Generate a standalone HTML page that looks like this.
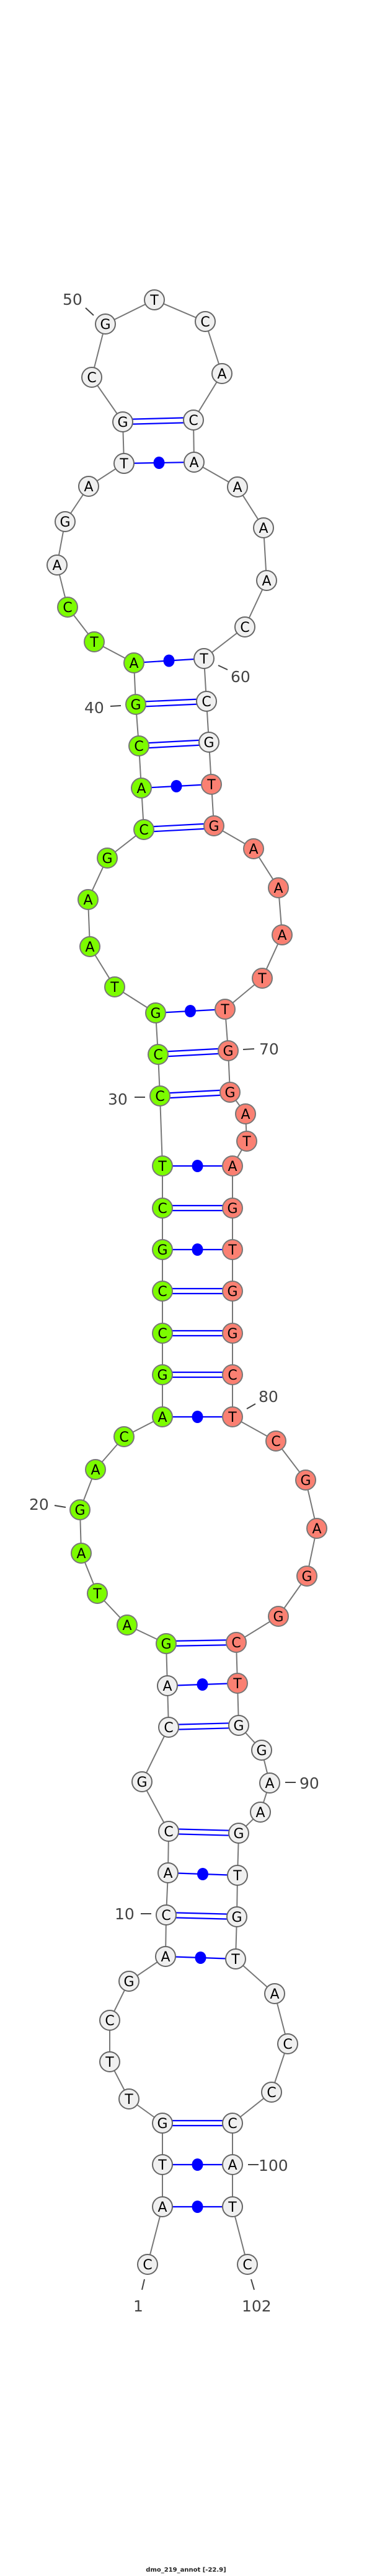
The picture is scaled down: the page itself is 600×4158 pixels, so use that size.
<!DOCTYPE html>
<html><head><meta charset="utf-8"><style>
html,body{margin:0;padding:0;background:#fff;}
svg{display:block}
.b{stroke:#777;stroke-width:2;fill:none}
.p{stroke:#0000ff;stroke-width:2.2;fill:none}
.d{fill:#0000ff}
circle.w{fill:#f0f0f0;stroke:#666;stroke-width:2}
circle.g{fill:#7cfc00;stroke:#777;stroke-width:2}
circle.r{fill:#fa8072;stroke:#777;stroke-width:2}
text.n{font-family:"DejaVu Sans","Liberation Sans",sans-serif;font-size:22px;text-anchor:middle;fill:#000}
text.l{font-family:"DejaVu Sans","Liberation Sans",sans-serif;font-size:25px;fill:#444}
.t{stroke:#444;stroke-width:2}
</style></head><body>
<svg width="600" height="4158" viewBox="0 0 600 4158" xmlns="http://www.w3.org/2000/svg">
<polyline class="b" points="238,3655 262,3562 262,3494 262,3427 208,3388 177,3328 177,3261 208,3198 267,3158 268,3091 271,3023 272,2956 229,2876 272,2788 270,2721 268,2653 205,2623 157,2572 131,2507 129,2437 154,2372 200,2319 262,2287 262,2219 262,2152 262,2084 262,2017 262,1950 262,1882 258,1769 255,1702 251,1635 185,1593 145,1528 142,1452 173,1385 232,1339 228,1272 224,1204 219,1137 216,1070 152,1036 109,980 92,912 105,842 143,785 200,748 198,681 148,609 170,523 249,484 331,519 358,603 312,678 313,746 383,786 425,852 430,937 395,1012 329,1063 333,1132 337,1198 341,1266 345,1333 409,1370 449,1433 455,1509 423,1579 363,1629 368,1696 371,1763 396,1798 398,1842 375,1882 375,1950 375,2017 375,2084 375,2152 375,2219 375,2287 445,2326 493,2389 511,2467 495,2544 449,2609 381,2651 383,2717 385,2785 422,2825 435,2878 420,2925 385,2959 383,3027 382,3094 380,3162 443,3218 464,3299 438,3377 375,3427 375,3494 375,3562 399,3655"/>
<!-- single (dot) pairs -->
<g class="p">
<line x1="262" y1="3562" x2="375" y2="3562"/>
<line x1="262" y1="3494" x2="375" y2="3494"/>
<line x1="267" y1="3158" x2="380" y2="3162"/>
<line x1="271" y1="3023" x2="383" y2="3027"/>
<line x1="270" y1="2721" x2="383" y2="2717"/>
<line x1="262" y1="2287" x2="375" y2="2287"/>
<line x1="262" y1="2017" x2="375" y2="2017"/>
<line x1="262" y1="1882" x2="375" y2="1882"/>
<line x1="251" y1="1635" x2="363" y2="1629"/>
<line x1="228" y1="1272" x2="341" y2="1266"/>
<line x1="216" y1="1070" x2="329" y2="1063"/>
<line x1="200" y1="748" x2="313" y2="746"/>
</g>
<g class="d">
<ellipse cx="318.5" cy="3562" rx="9" ry="10"/>
<ellipse cx="318.5" cy="3494" rx="9" ry="10"/>
<ellipse cx="323.5" cy="3160" rx="9" ry="10"/>
<ellipse cx="327" cy="3025" rx="9" ry="10"/>
<ellipse cx="326.5" cy="2719" rx="9" ry="10"/>
<ellipse cx="318.5" cy="2287" rx="9" ry="10"/>
<ellipse cx="318.5" cy="2017" rx="9" ry="10"/>
<ellipse cx="318.5" cy="1882" rx="9" ry="10"/>
<ellipse cx="307" cy="1632" rx="9" ry="10"/>
<ellipse cx="284.5" cy="1269" rx="9" ry="10"/>
<ellipse cx="272.5" cy="1066.5" rx="9" ry="10"/>
<ellipse cx="256.5" cy="747" rx="9" ry="10"/>
</g>
<!-- double pairs -->
<g class="p">
<line x1="262" y1="3423" x2="375" y2="3423"/><line x1="262" y1="3431" x2="375" y2="3431"/>
<line x1="268" y1="3087" x2="382" y2="3090"/><line x1="268" y1="3095" x2="382" y2="3098"/>
<line x1="272" y1="2952" x2="385" y2="2955"/><line x1="272" y1="2960" x2="385" y2="2963"/>
<line x1="272" y1="2784" x2="385" y2="2781"/><line x1="272" y1="2792" x2="385" y2="2789"/>
<line x1="268" y1="2649" x2="381" y2="2647"/><line x1="268" y1="2657" x2="381" y2="2655"/>
<line x1="262" y1="2215" x2="375" y2="2215"/><line x1="262" y1="2223" x2="375" y2="2223"/>
<line x1="262" y1="2148" x2="375" y2="2148"/><line x1="262" y1="2156" x2="375" y2="2156"/>
<line x1="262" y1="2080" x2="375" y2="2080"/><line x1="262" y1="2088" x2="375" y2="2088"/>
<line x1="262" y1="1946" x2="375" y2="1946"/><line x1="262" y1="1954" x2="375" y2="1954"/>
<line x1="258" y1="1765" x2="371" y2="1759"/><line x1="258" y1="1773" x2="371" y2="1767"/>
<line x1="255" y1="1698" x2="368" y2="1692"/><line x1="255" y1="1706" x2="368" y2="1700"/>
<line x1="232" y1="1335" x2="345" y2="1329"/><line x1="232" y1="1343" x2="345" y2="1337"/>
<line x1="224" y1="1200" x2="337" y2="1194"/><line x1="224" y1="1208" x2="337" y2="1202"/>
<line x1="219" y1="1133" x2="333" y2="1128"/><line x1="219" y1="1141" x2="333" y2="1136"/>
<line x1="198" y1="677" x2="312" y2="674"/><line x1="198" y1="685" x2="312" y2="682"/>
</g>
<!-- number labels -->
<g>
<line class="t" x1="138" y1="497" x2="151" y2="509"/><text class="l" x="101" y="492">50</text>
<line class="t" x1="352" y1="1074" x2="367" y2="1081"/><text class="l" x="372" y="1101">60</text>
<line class="t" x1="178" y1="1140" x2="195" y2="1139"/><text class="l" x="136" y="1151">40</text>
<line class="t" x1="392" y1="1694" x2="410" y2="1693"/><text class="l" x="418" y="1702">70</text>
<line class="t" x1="217" y1="1771" x2="234" y2="1771"/><text class="l" x="174" y="1783">30</text>
<line class="t" x1="398" y1="2274" x2="412" y2="2266"/><text class="l" x="417" y="2263">80</text>
<line class="t" x1="88" y1="2430" x2="106" y2="2433"/><text class="l" x="47" y="2437">20</text>
<line class="t" x1="460" y1="2877" x2="477" y2="2877"/><text class="l" x="483" y="2887">90</text>
<line class="t" x1="227" y1="3089" x2="244" y2="3089"/><text class="l" x="185" y="3098">10</text>
<line class="t" x1="400" y1="3494" x2="417" y2="3494"/><text class="l" x="417" y="3504">100</text>
<line class="t" x1="233" y1="3679" x2="229" y2="3696"/><text class="l" x="215" y="3731">1</text>
<line class="t" x1="405" y1="3679" x2="410" y2="3696"/><text class="l" x="390" y="3731">102</text>
</g>
<!-- nodes -->
<g>
<circle class="w" cx="238" cy="3655" r="16"/><text class="n" x="238" y="3663">C</text>
<circle class="w" cx="262" cy="3562" r="16"/><text class="n" x="262" y="3570">A</text>
<circle class="w" cx="262" cy="3494" r="16"/><text class="n" x="262" y="3502">T</text>
<circle class="w" cx="262" cy="3427" r="16"/><text class="n" x="262" y="3435">G</text>
<circle class="w" cx="208" cy="3388" r="16"/><text class="n" x="208" y="3396">T</text>
<circle class="w" cx="177" cy="3328" r="16"/><text class="n" x="177" y="3336">T</text>
<circle class="w" cx="177" cy="3261" r="16"/><text class="n" x="177" y="3269">C</text>
<circle class="w" cx="208" cy="3198" r="16"/><text class="n" x="208" y="3206">G</text>
<circle class="w" cx="267" cy="3158" r="16"/><text class="n" x="267" y="3166">A</text>
<circle class="w" cx="268" cy="3091" r="16"/><text class="n" x="268" y="3099">C</text>
<circle class="w" cx="271" cy="3023" r="16"/><text class="n" x="271" y="3031">A</text>
<circle class="w" cx="272" cy="2956" r="16"/><text class="n" x="272" y="2964">C</text>
<circle class="w" cx="229" cy="2876" r="16"/><text class="n" x="229" y="2884">G</text>
<circle class="w" cx="272" cy="2788" r="16"/><text class="n" x="272" y="2796">C</text>
<circle class="w" cx="270" cy="2721" r="16"/><text class="n" x="270" y="2729">A</text>
<circle class="g" cx="268" cy="2653" r="16"/><text class="n" x="268" y="2661">G</text>
<circle class="g" cx="205" cy="2623" r="16"/><text class="n" x="205" y="2631">A</text>
<circle class="g" cx="157" cy="2572" r="16"/><text class="n" x="157" y="2580">T</text>
<circle class="g" cx="131" cy="2507" r="16"/><text class="n" x="131" y="2515">A</text>
<circle class="g" cx="129" cy="2437" r="16"/><text class="n" x="129" y="2445">G</text>
<circle class="g" cx="154" cy="2372" r="16"/><text class="n" x="154" y="2380">A</text>
<circle class="g" cx="200" cy="2319" r="16"/><text class="n" x="200" y="2327">C</text>
<circle class="g" cx="262" cy="2287" r="16"/><text class="n" x="262" y="2295">A</text>
<circle class="g" cx="262" cy="2219" r="16"/><text class="n" x="262" y="2227">G</text>
<circle class="g" cx="262" cy="2152" r="16"/><text class="n" x="262" y="2160">C</text>
<circle class="g" cx="262" cy="2084" r="16"/><text class="n" x="262" y="2092">C</text>
<circle class="g" cx="262" cy="2017" r="16"/><text class="n" x="262" y="2025">G</text>
<circle class="g" cx="262" cy="1950" r="16"/><text class="n" x="262" y="1958">C</text>
<circle class="g" cx="262" cy="1882" r="16"/><text class="n" x="262" y="1890">T</text>
<circle class="g" cx="258" cy="1769" r="16"/><text class="n" x="258" y="1777">C</text>
<circle class="g" cx="255" cy="1702" r="16"/><text class="n" x="255" y="1710">C</text>
<circle class="g" cx="251" cy="1635" r="16"/><text class="n" x="251" y="1643">G</text>
<circle class="g" cx="185" cy="1593" r="16"/><text class="n" x="185" y="1601">T</text>
<circle class="g" cx="145" cy="1528" r="16"/><text class="n" x="145" y="1536">A</text>
<circle class="g" cx="142" cy="1452" r="16"/><text class="n" x="142" y="1460">A</text>
<circle class="g" cx="173" cy="1385" r="16"/><text class="n" x="173" y="1393">G</text>
<circle class="g" cx="232" cy="1339" r="16"/><text class="n" x="232" y="1347">C</text>
<circle class="g" cx="228" cy="1272" r="16"/><text class="n" x="228" y="1280">A</text>
<circle class="g" cx="224" cy="1204" r="16"/><text class="n" x="224" y="1212">C</text>
<circle class="g" cx="219" cy="1137" r="16"/><text class="n" x="219" y="1145">G</text>
<circle class="g" cx="216" cy="1070" r="16"/><text class="n" x="216" y="1078">A</text>
<circle class="g" cx="152" cy="1036" r="16"/><text class="n" x="152" y="1044">T</text>
<circle class="g" cx="109" cy="980" r="16"/><text class="n" x="109" y="988">C</text>
<circle class="w" cx="92" cy="912" r="16"/><text class="n" x="92" y="920">A</text>
<circle class="w" cx="105" cy="842" r="16"/><text class="n" x="105" y="850">G</text>
<circle class="w" cx="143" cy="785" r="16"/><text class="n" x="143" y="793">A</text>
<circle class="w" cx="200" cy="748" r="16"/><text class="n" x="200" y="756">T</text>
<circle class="w" cx="198" cy="681" r="16"/><text class="n" x="198" y="689">G</text>
<circle class="w" cx="148" cy="609" r="16"/><text class="n" x="148" y="617">C</text>
<circle class="w" cx="170" cy="523" r="16"/><text class="n" x="170" y="531">G</text>
<circle class="w" cx="249" cy="484" r="16"/><text class="n" x="249" y="492">T</text>
<circle class="w" cx="331" cy="519" r="16"/><text class="n" x="331" y="527">C</text>
<circle class="w" cx="358" cy="603" r="16"/><text class="n" x="358" y="611">A</text>
<circle class="w" cx="312" cy="678" r="16"/><text class="n" x="312" y="686">C</text>
<circle class="w" cx="313" cy="746" r="16"/><text class="n" x="313" y="754">A</text>
<circle class="w" cx="383" cy="786" r="16"/><text class="n" x="383" y="794">A</text>
<circle class="w" cx="425" cy="852" r="16"/><text class="n" x="425" y="860">A</text>
<circle class="w" cx="430" cy="937" r="16"/><text class="n" x="430" y="945">A</text>
<circle class="w" cx="395" cy="1012" r="16"/><text class="n" x="395" y="1020">C</text>
<circle class="w" cx="329" cy="1063" r="16"/><text class="n" x="329" y="1071">T</text>
<circle class="w" cx="333" cy="1132" r="16"/><text class="n" x="333" y="1140">C</text>
<circle class="w" cx="337" cy="1198" r="16"/><text class="n" x="337" y="1206">G</text>
<circle class="r" cx="341" cy="1266" r="16"/><text class="n" x="341" y="1274">T</text>
<circle class="r" cx="345" cy="1333" r="16"/><text class="n" x="345" y="1341">G</text>
<circle class="r" cx="409" cy="1370" r="16"/><text class="n" x="409" y="1378">A</text>
<circle class="r" cx="449" cy="1433" r="16"/><text class="n" x="449" y="1441">A</text>
<circle class="r" cx="455" cy="1509" r="16"/><text class="n" x="455" y="1517">A</text>
<circle class="r" cx="423" cy="1579" r="16"/><text class="n" x="423" y="1587">T</text>
<circle class="r" cx="363" cy="1629" r="16"/><text class="n" x="363" y="1637">T</text>
<circle class="r" cx="368" cy="1696" r="16"/><text class="n" x="368" y="1704">G</text>
<circle class="r" cx="371" cy="1763" r="16"/><text class="n" x="371" y="1771">G</text>
<circle class="r" cx="396" cy="1798" r="16"/><text class="n" x="396" y="1806">A</text>
<circle class="r" cx="398" cy="1842" r="16"/><text class="n" x="398" y="1850">T</text>
<circle class="r" cx="375" cy="1882" r="16"/><text class="n" x="375" y="1890">A</text>
<circle class="r" cx="375" cy="1950" r="16"/><text class="n" x="375" y="1958">G</text>
<circle class="r" cx="375" cy="2017" r="16"/><text class="n" x="375" y="2025">T</text>
<circle class="r" cx="375" cy="2084" r="16"/><text class="n" x="375" y="2092">G</text>
<circle class="r" cx="375" cy="2152" r="16"/><text class="n" x="375" y="2160">G</text>
<circle class="r" cx="375" cy="2219" r="16"/><text class="n" x="375" y="2227">C</text>
<circle class="r" cx="375" cy="2287" r="16"/><text class="n" x="375" y="2295">T</text>
<circle class="r" cx="445" cy="2326" r="16"/><text class="n" x="445" y="2334">C</text>
<circle class="r" cx="493" cy="2389" r="16"/><text class="n" x="493" y="2397">G</text>
<circle class="r" cx="511" cy="2467" r="16"/><text class="n" x="511" y="2475">A</text>
<circle class="r" cx="495" cy="2544" r="16"/><text class="n" x="495" y="2552">G</text>
<circle class="r" cx="449" cy="2609" r="16"/><text class="n" x="449" y="2617">G</text>
<circle class="r" cx="381" cy="2651" r="16"/><text class="n" x="381" y="2659">C</text>
<circle class="r" cx="383" cy="2717" r="16"/><text class="n" x="383" y="2725">T</text>
<circle class="w" cx="385" cy="2785" r="16"/><text class="n" x="385" y="2793">G</text>
<circle class="w" cx="422" cy="2825" r="16"/><text class="n" x="422" y="2833">G</text>
<circle class="w" cx="435" cy="2878" r="16"/><text class="n" x="435" y="2886">A</text>
<circle class="w" cx="420" cy="2925" r="16"/><text class="n" x="420" y="2933">A</text>
<circle class="w" cx="385" cy="2959" r="16"/><text class="n" x="385" y="2967">G</text>
<circle class="w" cx="383" cy="3027" r="16"/><text class="n" x="383" y="3035">T</text>
<circle class="w" cx="382" cy="3094" r="16"/><text class="n" x="382" y="3102">G</text>
<circle class="w" cx="380" cy="3162" r="16"/><text class="n" x="380" y="3170">T</text>
<circle class="w" cx="443" cy="3218" r="16"/><text class="n" x="443" y="3226">A</text>
<circle class="w" cx="464" cy="3299" r="16"/><text class="n" x="464" y="3307">C</text>
<circle class="w" cx="438" cy="3377" r="16"/><text class="n" x="438" y="3385">C</text>
<circle class="w" cx="375" cy="3427" r="16"/><text class="n" x="375" y="3435">C</text>
<circle class="w" cx="375" cy="3494" r="16"/><text class="n" x="375" y="3502">A</text>
<circle class="w" cx="375" cy="3562" r="16"/><text class="n" x="375" y="3570">T</text>
<circle class="w" cx="399" cy="3655" r="16"/><text class="n" x="399" y="3663">C</text>
</g>
<text x="300" y="4151" text-anchor="middle" style="font-family:'DejaVu Sans','Liberation Sans',sans-serif;font-size:10px;font-weight:bold;fill:#222">dmo_219_annot [-22.9]</text>
</svg>
</body></html>
